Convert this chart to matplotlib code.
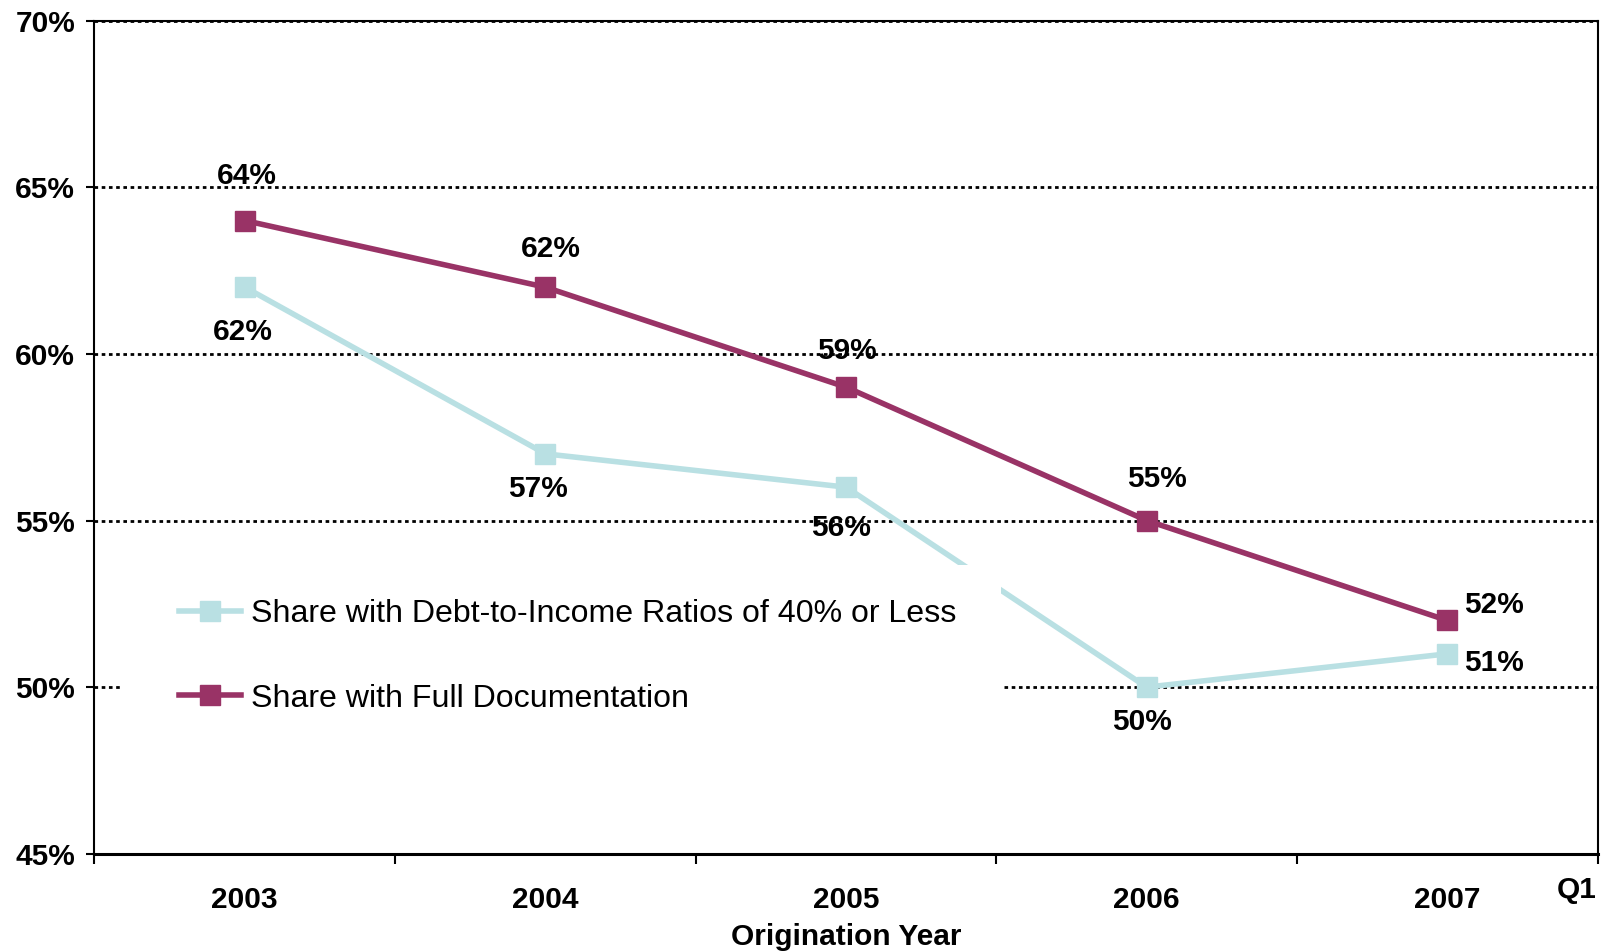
import numpy as np
import matplotlib
matplotlib.use("Agg")
import matplotlib.pyplot as plt
from matplotlib.patches import Rectangle

plt.rcParams['font.family'] = ['Liberation Sans', 'DejaVu Sans']

years = ['2003', '2004', '2005', '2006', '2007']
dti_share = [62, 57, 56, 50, 51]
full_doc_share = [64, 62, 59, 55, 52]
yticks = [45, 50, 55, 60, 65, 70]

# label offsets in pixels (dx, dy) relative to each marker
full_doc_offsets = [(2, 45), (5, 38), (1, 36), (10, 42), (47, 15)]
dti_offsets = [(-2, -45), (-7, -35), (-5, -41), (-5, -35), (47, -9)]

maroon = '#993366'
lightblue = '#B9E0E3'
bold_size = 21.5

fig = plt.figure(figsize=(16.09, 9.51), dpi=100)
ax = fig.add_axes([0.0587, 0.1022, 0.9343, 0.8762])

x = np.arange(len(years))

ax.set_xlim(-0.5, len(years) - 0.5)
ax.set_ylim(45, 70)

for yv in yticks[1:]:
    ax.axhline(yv, color='black', lw=2.0, ls=(0, (1.3, 1.3)), zorder=1)

ax.plot(x, dti_share, color=lightblue, lw=4.0, marker='s', ms=15,
        label='Share with Debt-to-Income Ratios of 40% or Less', zorder=2)
ax.plot(x, full_doc_share, color=maroon, lw=4.0, marker='s', ms=15,
        label='Share with Full Documentation', zorder=2)

# white legend area
ax.add_patch(Rectangle((0.019, 0.144), 0.584, 0.203, transform=ax.transAxes,
                       facecolor='white', edgecolor='none', zorder=3))
leg = ax.legend(loc='center left', bbox_to_anchor=(0.0475, 0.237), frameon=False,
                fontsize=23.1, handlelength=1.95, handletextpad=0.3,
                labelspacing=1.7, borderaxespad=0)
leg.set_zorder(4)

for i in range(len(years)):
    ax.annotate(f'{full_doc_share[i]}%', (x[i], full_doc_share[i]),
                xytext=full_doc_offsets[i], textcoords='offset pixels',
                ha='center', va='center', fontsize=bold_size, fontweight='bold', zorder=5)
    ax.annotate(f'{dti_share[i]}%', (x[i], dti_share[i]),
                xytext=dti_offsets[i], textcoords='offset pixels',
                ha='center', va='center', fontsize=bold_size, fontweight='bold', zorder=5)

ax.set_yticks(yticks)
ax.set_yticklabels([f'{v}%' for v in yticks], fontsize=bold_size, fontweight='bold')
ax.tick_params(axis='y', direction='out', length=6, width=1.5, pad=8)

ax.set_xticks(np.arange(-0.5, len(years), 1.0))
ax.set_xticklabels([])
ax.tick_params(axis='x', which='major', direction='out', length=7, width=1.5)
ax.set_xticks(x, minor=True)
ax.set_xticklabels(years, minor=True, fontsize=bold_size, fontweight='bold')
ax.tick_params(axis='x', which='minor', length=0, pad=23)

ax.annotate('Q1', (1.0, 0.0), xycoords='axes fraction', xytext=(-1, -36),
            textcoords='offset pixels', ha='right', va='center',
            fontsize=bold_size, fontweight='bold')
ax.set_xlabel('Origination Year', fontsize=bold_size, fontweight='bold', labelpad=7)

for s in ['left', 'right', 'top']:
    ax.spines[s].set_linewidth(1.5)
ax.spines['bottom'].set_linewidth(2.2)

fig.savefig('out.png', dpi=100)
